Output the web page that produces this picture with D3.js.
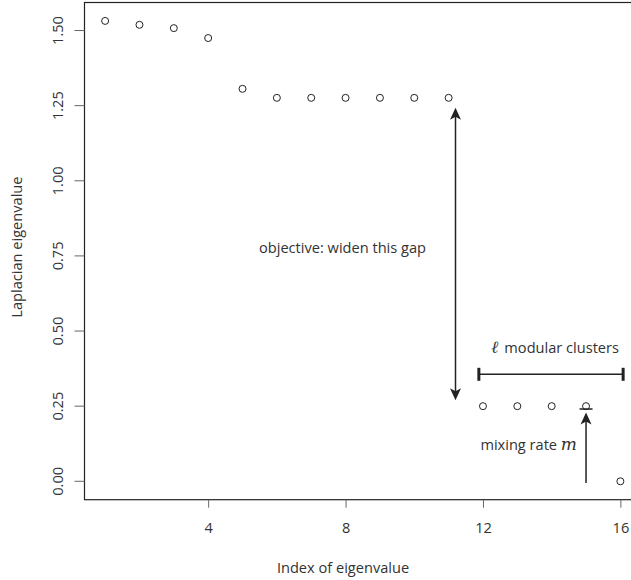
<!DOCTYPE html>
<html>
<head>
<meta charset="utf-8">
<script src="https://cdn.jsdelivr.net/npm/d3@7"></script>
<style>
  body { margin: 0; background: #fff; }
  svg { font-family: "Open Sans", sans-serif; }
</style>
</head>
<body>
<svg id="chart" width="631" height="580"></svg>
<script>
// eigenvalue index and Laplacian eigenvalues
const indices = d3.range(1, 17);
const eigenvalues = [1.532, 1.519, 1.508, 1.475, 1.306, 1.276, 1.276, 1.276,
                     1.276, 1.276, 1.276, 0.25, 0.25, 0.25, 0.25, 0.0];
const xTicks = [4, 8, 12, 16];
const yTicks = [0, 0.25, 0.5, 0.75, 1.0, 1.25, 1.5];

const svg = d3.select('#chart');
const ink = '#222';
const fontSize = '14.6px';

// R-style 4% padding around the data range
const xPad = 0.04 * (d3.max(indices) - d3.min(indices));
const yPad = 0.04 * (d3.max(eigenvalues) - d3.min(eigenvalues));

const x = d3.scaleLinear()
    .domain([d3.min(indices) - xPad, d3.max(indices) + xPad])
    .range([84.5, 641]);
const y = d3.scaleLinear()
    .domain([d3.min(eigenvalues) - yPad, d3.max(eigenvalues) + yPad])
    .range([499.7, 2.5]);

// plot box
svg.append('rect')
    .attr('x', x.range()[0])
    .attr('y', y.range()[1])
    .attr('width', x.range()[1] - x.range()[0])
    .attr('height', y.range()[0] - y.range()[1])
    .attr('fill', 'none')
    .attr('stroke', ink)
    .attr('stroke-width', 1.2);

// axes
const xAxis = svg.append('g')
    .attr('transform', `translate(0,${y.range()[0]})`)
    .call(d3.axisBottom(x).tickValues(xTicks).tickSize(8).tickPadding(15).tickFormat(d3.format('d')));
const yAxis = svg.append('g')
    .attr('transform', `translate(${x.range()[0]},0)`)
    .call(d3.axisLeft(y).tickValues(yTicks).tickSize(10).tickFormat(d3.format('.2f')));

[xAxis, yAxis].forEach(g => {
    g.select('.domain').remove();
    g.selectAll('line').attr('stroke', '#666').attr('stroke-width', 1);
    g.selectAll('text').attr('fill', '#333').style('font-size', fontSize)
        .style('font-family', '"Open Sans", sans-serif');
});
yAxis.selectAll('text')
    .attr('x', 0).attr('dy', 0)
    .attr('text-anchor', 'middle')
    .attr('transform', d => `translate(-22,${y(d)}) rotate(-90)`)
    .attr('y', 0);
yAxis.selectAll('.tick').attr('transform', 'translate(0,0)');
yAxis.selectAll('.tick line').attr('y1', d => y(d)).attr('y2', d => y(d));

// axis titles
svg.append('text')
    .attr('x', 343)
    .attr('y', 573)
    .attr('text-anchor', 'middle')
    .attr('fill', '#333')
    .style('font-size', fontSize)
    .text('Index of eigenvalue');
svg.append('text')
    .attr('transform', `translate(22,${(y.range()[0] + y.range()[1]) / 2 - 4}) rotate(-90)`)
    .attr('text-anchor', 'middle')
    .attr('fill', '#333')
    .style('font-size', fontSize)
    .text('Laplacian eigenvalue');

// points
svg.selectAll('.pt')
    .data(indices)
    .enter().append('circle')
    .attr('class', 'pt')
    .attr('cx', d => x(d))
    .attr('cy', (d, i) => y(eigenvalues[i]))
    .attr('r', 3.5)
    .attr('fill', 'none')
    .attr('stroke', ink)
    .attr('stroke-width', 1);

// arrow helpers
function arrowHead(tipX, tipY, dir) {
    // dir = -1 pointing up, +1 pointing down
    const len = 12, half = 5.5;
    svg.append('path')
        .attr('d', `M${tipX},${tipY} L${tipX - half},${tipY - dir * len} L${tipX},${tipY - dir * (len - 3)} L${tipX + half},${tipY - dir * len} Z`)
        .attr('fill', ink);
}
function vline(xv, y1, y2, w) {
    svg.append('line')
        .attr('x1', x(xv)).attr('x2', x(xv))
        .attr('y1', y(y1)).attr('y2', y(y2))
        .attr('stroke', ink).attr('stroke-width', w || 1.5);
}

// gap arrow (double headed)
const gapX = 11.2, gapLow = 0.27, gapHigh = 1.243;
vline(gapX, gapLow + 0.02, gapHigh - 0.02);
arrowHead(x(gapX), y(gapHigh), -1);
arrowHead(x(gapX), y(gapLow), 1);

svg.append('text')
    .attr('x', x(5.48))
    .attr('y', y(0.76))
    .attr('fill', '#333')
    .style('font-size', fontSize)
    .text('objective: widen this gap');

// modular clusters interval
const clusterFrom = 11.88, clusterTo = 16.08, clusterY = 0.356;
svg.append('line')
    .attr('x1', x(clusterFrom)).attr('x2', x(clusterTo))
    .attr('y1', y(clusterY)).attr('y2', y(clusterY))
    .attr('stroke', ink).attr('stroke-width', 1.5);
[clusterFrom, clusterTo].forEach(v => {
    svg.append('line')
        .attr('x1', x(v)).attr('x2', x(v))
        .attr('y1', y(clusterY) - 6.5).attr('y2', y(clusterY) + 6.5)
        .attr('stroke', ink).attr('stroke-width', 3);
});
const lab = svg.append('text')
    .attr('x', x(14.1))
    .attr('y', y(0.427))
    .attr('text-anchor', 'middle')
    .attr('fill', '#333')
    .style('font-size', fontSize);
lab.append('tspan')
    .style('font-family', '"DejaVu Serif", serif')
    .style('font-style', 'italic')
    .style('font-size', '17px')
    .text('ℓ');
lab.append('tspan').attr('dx', 6).text('modular clusters');

// mixing rate arrow
const mixX = 15, mixLow = -0.006, mixHigh = 0.229, mixBar = 0.2405;
vline(mixX, mixLow, mixHigh - 0.02);
arrowHead(x(mixX), y(mixHigh), -1);
svg.append('line')
    .attr('x1', x(mixX) - 6.5).attr('x2', x(mixX) + 6.5)
    .attr('y1', y(mixBar)).attr('y2', y(mixBar))
    .attr('stroke', ink).attr('stroke-width', 1.5);

const mix = svg.append('text')
    .attr('x', x(13.33))
    .attr('y', y(0.104))
    .attr('text-anchor', 'middle')
    .attr('fill', '#333')
    .style('font-size', fontSize);
mix.append('tspan').text('mixing rate ');
mix.append('tspan')
    .style('font-family', '"DejaVu Serif", serif')
    .style('font-style', 'italic')
    .style('font-size', '17px')
    .text('m');
</script>
</body>
</html>
